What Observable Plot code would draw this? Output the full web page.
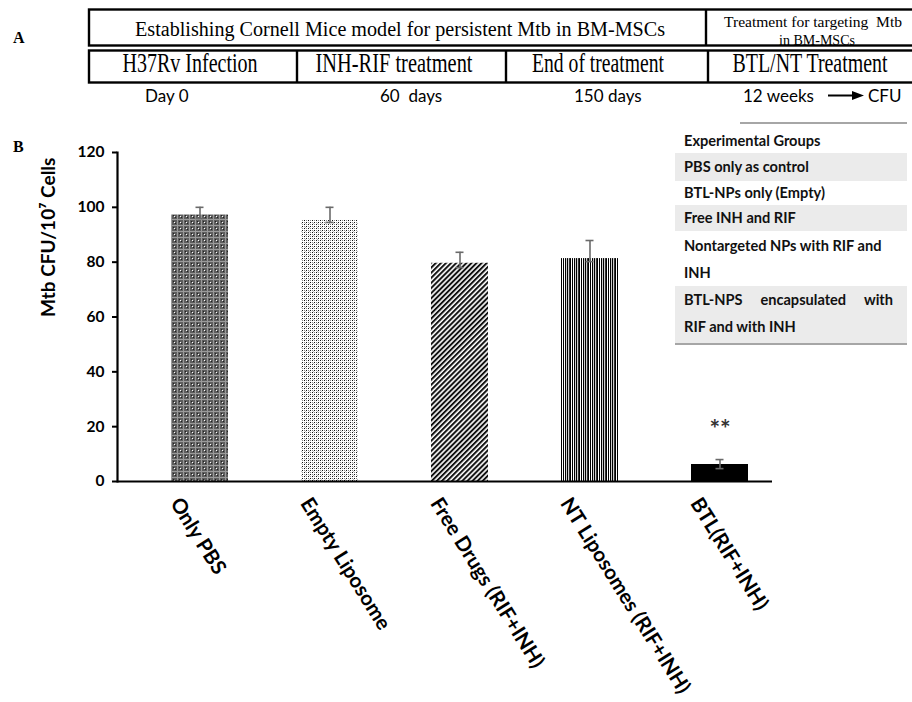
<!DOCTYPE html>
<html>
<head>
<meta charset="utf-8">
<script src="https://cdn.jsdelivr.net/npm/d3@7"></script>
<script src="https://cdn.jsdelivr.net/npm/@observablehq/plot@0.6"></script>
<style>
  html, body { margin: 0; padding: 0; background: #fff; overflow: hidden; }
  #wrap { position: relative; width: 912px; height: 702px; overflow: hidden; background: #fff; }
  #wrap > svg { position: absolute; left: 0; top: 0; }
</style>
</head>
<body>
<div id="wrap"></div>
<script>
// ---------------- DATA ----------------
const groups = ["Only PBS", "Empty Liposome", "Free Drugs (RIF+INH)", "NT Liposomes (RIF+INH)", "BTL(RIF+INH)"];
const cfu = [97.2, 95.2, 79.6, 81.3, 6.2];
const errHigh = [100.0, 100.0, 83.6, 87.9, 8.0];
const errLow = [95.9, 94.5, 78.0, 80.2, 4.7];
const signif = ["", "", "", "", "**"];
const patternIds = ["grid", "dots", "diag", "vert", "solid"];
const yTicks = [0, 20, 40, 60, 80, 100, 120];
const yLabel = "Mtb CFU/10\u2077 Cells";

const legendTitle = "Experimental Groups";
const legendLines = [
  ["PBS only as control"],
  ["BTL-NPs only (Empty)"],
  ["Free INH and RIF"],
  ["Nontargeted NPs with RIF and", "INH"],
  ["BTL-NPS encapsulated with", "RIF and with INH"]
];

const panelTopRow = ["Establishing Cornell Mice model for persistent Mtb in BM-MSCs", "Treatment for targeting  Mtb", "in BM-MSCs"];
const panelPhases = ["H37Rv Infection", "INH-RIF treatment", "End of treatment", "BTL/NT Treatment"];
const panelTimes = ["Day 0", "60  days", "150 days", "12 weeks", "CFU"];

// ---------------- CHART ----------------
const data = groups.map((g, i) => ({
  group: g, cfu: cfu[i], lo: errLow[i], hi: errHigh[i], sig: signif[i],
  fill: `url(#pat-${patternIds[i]})`
}));

const sans = "Lato, 'Open Sans', sans-serif";
const serif = "'Liberation Serif', 'Times New Roman', serif";
const errColor = "#6a6a6a";

const chart = Plot.plot({
  width: 912,
  height: 702,
  marginTop: 152,
  marginBottom: 221,
  marginLeft: 117,
  marginRight: 140,
  style: { fontFamily: sans, background: "transparent", color: "#000", overflow: "visible" },
  x: { type: "band", domain: groups, range: [133, 786], paddingInner: 0.563, paddingOuter: 0.2815, axis: null },
  y: { domain: [0, 120], axis: null },
  color: { type: "identity" },
  marks: [
    Plot.barY(data, { x: "group", y: "cfu", fill: "fill" }),
    Plot.ruleX(data, { x: "group", y1: "lo", y2: "hi", stroke: errColor, strokeWidth: 1.6 }),
    Plot.tickY(data, { x: "group", y: "hi", stroke: errColor, strokeWidth: 1.6, insetLeft: 24.5, insetRight: 24.5 }),
    Plot.tickY(data, { x: "group", y: "lo", stroke: errColor, strokeWidth: 1.6, insetLeft: 24.5, insetRight: 24.5 }),
    Plot.text(data, { x: "group", y: "hi", text: "sig", dy: -30, fontSize: 25, fill: "#333", fontWeight: "bold" }),
    Plot.frame({ anchor: "left", stroke: "#000", strokeWidth: 2.2 }),
    Plot.ruleY([0], { stroke: "#000", strokeWidth: 2.2 }),
    Plot.axisY({ ticks: yTicks, tickSize: 5, tickPadding: 8, fontSize: 15.5, fontWeight: "bold", strokeWidth: 2, label: null, tickFormat: d => String(d) }),
    Plot.text(data, { x: "group", text: "group", frameAnchor: "bottom", rotate: 58, textAnchor: "start", lineAnchor: "top", dx: -18, dy: 14, fontSize: 20.5, fontWeight: "bold" }),
    Plot.text([yLabel], { frameAnchor: "left", rotate: -90, dx: -69, fontSize: 19, fontWeight: "bold" })
  ]
});

const wrap = document.getElementById("wrap");
wrap.appendChild(chart);

// patterns
const defs = d3.select(chart).insert("defs", ":first-child");
const pGrid = defs.append("pattern").attr("id", "pat-grid").attr("patternUnits", "userSpaceOnUse").attr("width", 6).attr("height", 6);
pGrid.append("rect").attr("width", 6).attr("height", 6).attr("fill", "#5e5e5e");
pGrid.append("rect").attr("x", 0).attr("y", 3).attr("width", 6).attr("height", 1).attr("fill", "#9a9a9a");
pGrid.append("rect").attr("x", 3).attr("y", 0).attr("width", 1).attr("height", 6).attr("fill", "#9a9a9a");
pGrid.append("rect").attr("x", 0).attr("y", 0).attr("width", 1).attr("height", 1).attr("fill", "#fff");
pGrid.append("rect").attr("x", 1).attr("y", 1).attr("width", 1).attr("height", 1).attr("fill", "#222");
pGrid.append("rect").attr("x", 5).attr("y", 5).attr("width", 1).attr("height", 1).attr("fill", "#222");
const pDots = defs.append("pattern").attr("id", "pat-dots").attr("patternUnits", "userSpaceOnUse").attr("width", 4).attr("height", 4);
pDots.append("rect").attr("width", 4).attr("height", 4).attr("fill", "#fff");
pDots.append("rect").attr("x", 0).attr("y", 0).attr("width", 1).attr("height", 1).attr("fill", "#111");
pDots.append("rect").attr("x", 2).attr("y", 2).attr("width", 1).attr("height", 1).attr("fill", "#111");
pDots.append("rect").attr("x", 2).attr("y", 0).attr("width", 1).attr("height", 1).attr("fill", "#888");
pDots.append("rect").attr("x", 0).attr("y", 2).attr("width", 1).attr("height", 1).attr("fill", "#888");
pDots.append("rect").attr("x", 1).attr("y", 3).attr("width", 1).attr("height", 1).attr("fill", "#bbb");
const pDiag = defs.append("pattern").attr("id", "pat-diag").attr("patternUnits", "userSpaceOnUse").attr("width", 3.6).attr("height", 10).attr("patternTransform", "rotate(45)");
pDiag.append("rect").attr("width", 3.6).attr("height", 10).attr("fill", "#fff");
pDiag.append("rect").attr("width", 2).attr("height", 10).attr("fill", "#111");
const pVert = defs.append("pattern").attr("id", "pat-vert").attr("patternUnits", "userSpaceOnUse").attr("width", 9).attr("height", 4);
pVert.append("rect").attr("width", 9).attr("height", 4).attr("fill", "#fff");
[[0, 1.2], [2.2, 1.8], [5, 1], [7, 1.2]].forEach(([x, w]) => pVert.append("rect").attr("x", x).attr("width", w).attr("height", 4).attr("fill", "#000"));
const pSolid = defs.append("pattern").attr("id", "pat-solid").attr("patternUnits", "userSpaceOnUse").attr("width", 4).attr("height", 4);
pSolid.append("rect").attr("width", 4).attr("height", 4).attr("fill", "#000");

// ---------------- PANEL A + labels (overlay) ----------------
const ov = d3.select(wrap).append("svg")
  .attr("width", 912).attr("height", 702)
  .style("pointer-events", "none");

ov.append("text").attr("x", 13).attr("y", 43).attr("font-family", serif).attr("font-weight", "bold").attr("font-size", 16).text("A");
ov.append("text").attr("x", 13).attr("y", 152).attr("font-family", serif).attr("font-weight", "bold").attr("font-size", 16).text("B");

const bw = 2.4;

// top row texts
ov.append("text").attr("x", 400).attr("y", 36).attr("text-anchor", "middle")
  .attr("font-family", serif).attr("font-size", 20).attr("textLength", 530).attr("lengthAdjust", "spacingAndGlyphs")
  .text(panelTopRow[0]);
ov.append("text").attr("x", 813).attr("y", 27).attr("text-anchor", "middle").style("white-space", "pre")
  .attr("font-family", serif).attr("font-size", 14).attr("textLength", 178).attr("lengthAdjust", "spacingAndGlyphs")
  .text(panelTopRow[1]);
ov.append("text").attr("x", 817).attr("y", 45).attr("text-anchor", "middle")
  .attr("font-family", serif).attr("font-size", 14)
  .text(panelTopRow[2]);

// boxes
ov.append("rect").attr("x", 89).attr("y", 9.5).attr("width", 840).attr("height", 36).attr("fill", "none").attr("stroke", "#000").attr("stroke-width", bw);
ov.append("line").attr("x1", 706).attr("x2", 706).attr("y1", 9.5).attr("y2", 45.5).attr("stroke", "#000").attr("stroke-width", bw);
ov.append("rect").attr("x", 89).attr("y", 50.5).attr("width", 840).attr("height", 32).attr("fill", "none").attr("stroke", "#000").attr("stroke-width", bw);
[297, 506, 708].forEach(x => ov.append("line").attr("x1", x).attr("x2", x).attr("y1", 50.5).attr("y2", 82.5).attr("stroke", "#000").attr("stroke-width", bw));

// phases (tall, condensed serif)
const phaseCenters = [190, 394, 598, 810];
const phaseLens = [135, 157, 132, 155];
panelPhases.forEach((t, i) => {
  ov.append("text").attr("transform", `translate(${phaseCenters[i]},72) scale(1,1.22)`).attr("text-anchor", "middle")
    .attr("font-family", serif).attr("font-size", 22).attr("textLength", phaseLens[i]).attr("lengthAdjust", "spacingAndGlyphs")
    .text(t);
});

// times
const timeStarts = [145, 380, 574, 743, 868];
panelTimes.forEach((t, i) => {
  ov.append("text").attr("x", timeStarts[i]).attr("y", 101.5).style("white-space", "pre")
    .attr("font-family", sans).attr("font-size", 17).text(t);
});
ov.append("line").attr("x1", 828).attr("x2", 855).attr("y1", 95.5).attr("y2", 95.5).attr("stroke", "#000").attr("stroke-width", 2);
ov.append("path").attr("d", "M852,91 L864,95.5 L852,100 Z").attr("fill", "#000");

// ---------------- LEGEND TABLE ----------------
const lg = d3.select(wrap).append("div")
  .style("position", "absolute").style("left", "0").style("top", "0")
  .style("width", "912px").style("height", "702px")
  .style("font-family", sans).style("font-weight", "700").style("font-size", "14.6px").style("color", "#111");

const lgLeft = 675, lgRight = 907, txtLeft = 684, txtRight = 893;
const shade = [[153, 181], [205, 231], [286, 343]];
shade.forEach(([a, b]) => lg.append("div").style("position", "absolute")
  .style("left", lgLeft + "px").style("top", a + "px").style("width", (lgRight - lgLeft) + "px").style("height", (b - a) + "px")
  .style("background", "#ebebeb"));
lg.append("div").style("position", "absolute").style("left", "740px").style("top", "122px").style("width", (lgRight - 740) + "px").style("height", "2px").style("background", "#a6a6a6");
lg.append("div").style("position", "absolute").style("left", lgLeft + "px").style("top", "343px").style("width", (lgRight - lgLeft) + "px").style("height", "2px").style("background", "#a6a6a6");

const lineCenters = [[167], [193], [218], [246, 273], [300, 327]];
const justifyLine = [[false], [false], [false], [false, false], [true, false]];
function addLine(text, cy, justify) {
  const d = lg.append("div").style("position", "absolute")
    .style("left", txtLeft + "px").style("top", (cy - 10) + "px").style("height", "20px").style("line-height", "20px")
    .style("white-space", "nowrap");
  if (justify) {
    d.style("width", (txtRight - txtLeft) + "px").style("display", "flex").style("justify-content", "space-between");
    text.split(" ").forEach(w => d.append("span").text(w));
  } else {
    d.text(text);
  }
}
addLine(legendTitle, 141, false);
legendLines.forEach((lines, i) => lines.forEach((t, j) => addLine(t, lineCenters[i][j], justifyLine[i][j])));
</script>
</body>
</html>
